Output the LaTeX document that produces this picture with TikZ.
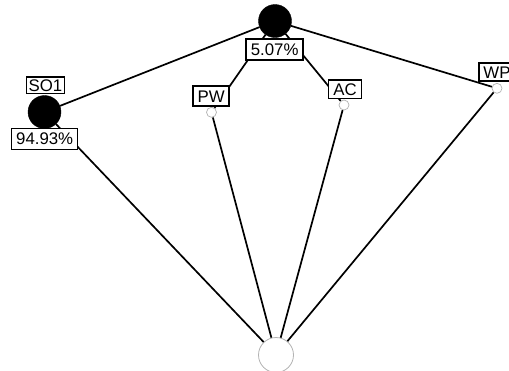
\documentclass[tikz,border=0pt]{standalone}
\usepackage{fontspec}
\setmainfont{Liberation Sans}
\begin{document}
\begin{tikzpicture}[x=1pt,y=-1pt,
  edge/.style={line width=1.7pt,black},
  bigdot/.style={circle,fill=black,draw=black,minimum size=33pt,inner sep=0pt},
  smalldot/.style={circle,fill=white,draw=gray!60,line width=0.7pt,minimum size=10pt,inner sep=0pt},
  sink/.style={circle,fill=white,draw=gray!60,line width=0.8pt,minimum size=35pt,inner sep=0pt},
  tag/.style={rectangle,draw=black,fill=white,line width=1.5pt,inner sep=0pt,
    font=\fontsize{16.8}{18}\selectfont,text height=12pt,text depth=0pt}]
\useasboundingbox (0,0) rectangle (509,370);

% circles
\node[bigdot] (top) at (275,21) {};
\node[bigdot] (so1) at (44.5,112) {};
\node[smalldot] (pw) at (211.5,112.3) {};
\node[smalldot] (ac) at (344,105) {};
\node[smalldot] (wp) at (497,88.3) {};
\node[sink] (sink) at (276,355) {};

% connectors
\draw[edge] (top) -- (so1);
\draw[edge] (top) -- (pw);
\draw[edge] (top) -- (ac);
\draw[edge] (top) -- (wp);
\draw[edge] (so1) -- (sink);
\draw[edge] (pw) -- (sink);
\draw[edge] (ac) -- (sink);
\draw[edge] (wp) -- (sink);

% labels
\node[tag,minimum width=57pt,minimum height=21pt] (ptop) at (274.7,49.5) {5.07\%};
\node[tag,minimum width=38pt,minimum height=16.5pt] (lso1) at (45.5,85.2) {SO1};
\node[tag,minimum width=66pt,minimum height=21pt] (pso1) at (44.7,138.8) {94.93\%};
\node[tag,minimum width=36pt,minimum height=20pt] (lpw) at (211.2,96) {PW};
\node[tag,minimum width=33pt,minimum height=18.5pt] (lac) at (345,89.2) {AC};
\node[tag,minimum width=36pt,minimum height=18pt] (lwp) at (497,72.2) {WP};
\end{tikzpicture}
\end{document}
